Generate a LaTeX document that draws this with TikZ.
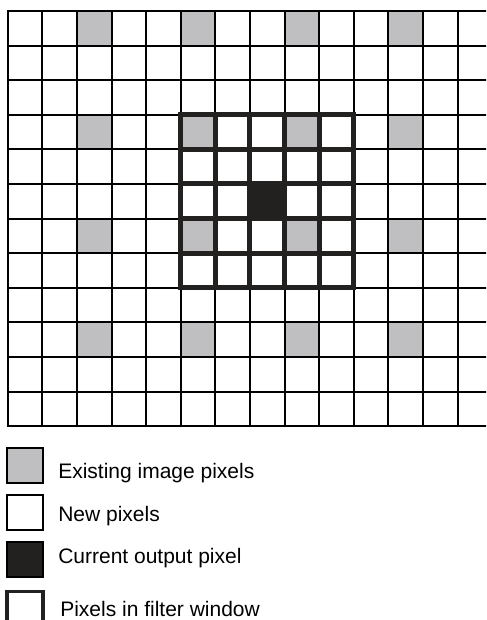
\documentclass[tikz,border=0pt]{standalone}
\usepackage{fontspec}
\setmainfont{Liberation Sans}
\usetikzlibrary{positioning}
\definecolor{oldpix}{RGB}{191,191,193}
\definecolor{winblack}{RGB}{35,33,31}

\begin{document}
\begin{tikzpicture}[
    x=0.75pt, y=-0.75pt,
    node distance=7.9pt,
    gridline/.style={black, line width=1.5pt, line cap=rect},
    window/.style={winblack, line width=3.75pt, line cap=rect},
    keybox/.style={rectangle, draw=black, line width=1.1pt, minimum width=27pt, minimum height=26.25pt, inner sep=0pt},
    keytext/.style={anchor=base west, inner sep=0pt, font=\fontsize{15.75}{19}\selectfont}
]
\clip (0,0) rectangle (486,620);
\def\cs{34.6}

% Existing pixels (every third cell)
\foreach \r in {0,3,6,9}
  \foreach \c in {2,5,8,11}
    \fill[oldpix] (7.7+\c*\cs,11+\r*\cs) rectangle ++(\cs,\cs);

% Current output pixel
\fill[winblack] (7.7+7*\cs,11+5*\cs) rectangle ++(\cs,\cs);

% Grid
\foreach \r in {0,...,12}
  \draw[gridline] (7.7,11+\r*\cs) -- (492,11+\r*\cs);
\foreach \c in {0,...,13}
  \draw[gridline] (7.7+\c*\cs,11) -- (7.7+\c*\cs,11+12*\cs);

% Filter window
\foreach \k in {0,...,5} {
  \draw[window] (7.7+5*\cs,11+3*\cs+\k*\cs) -- ++(5*\cs,0);
  \draw[window] (7.7+5*\cs+\k*\cs,11+3*\cs) -- ++(0,5*\cs);
}

% Legend
\node (keyold) [keybox, fill=oldpix] at (25,465.5) {};
\node (keynew) [keybox, fill=white, below=of keyold] {};
\node (keycur) [keybox, fill=winblack, below=of keynew] {};
\node (keywin) [keybox, draw=winblack, line width=2.3pt, minimum height=40pt, below=9pt of keycur] {};

\node (txtold) [keytext] at (58,478) {Existing image pixels};
\node (txtnew) [keytext] at (58,521.7) {New pixels};
\node (txtcur) [keytext] at (58,563) {Current output pixel};
\node (txtwin) [keytext] at (60,616) {Pixels in filter window};

\end{tikzpicture}
\end{document}
